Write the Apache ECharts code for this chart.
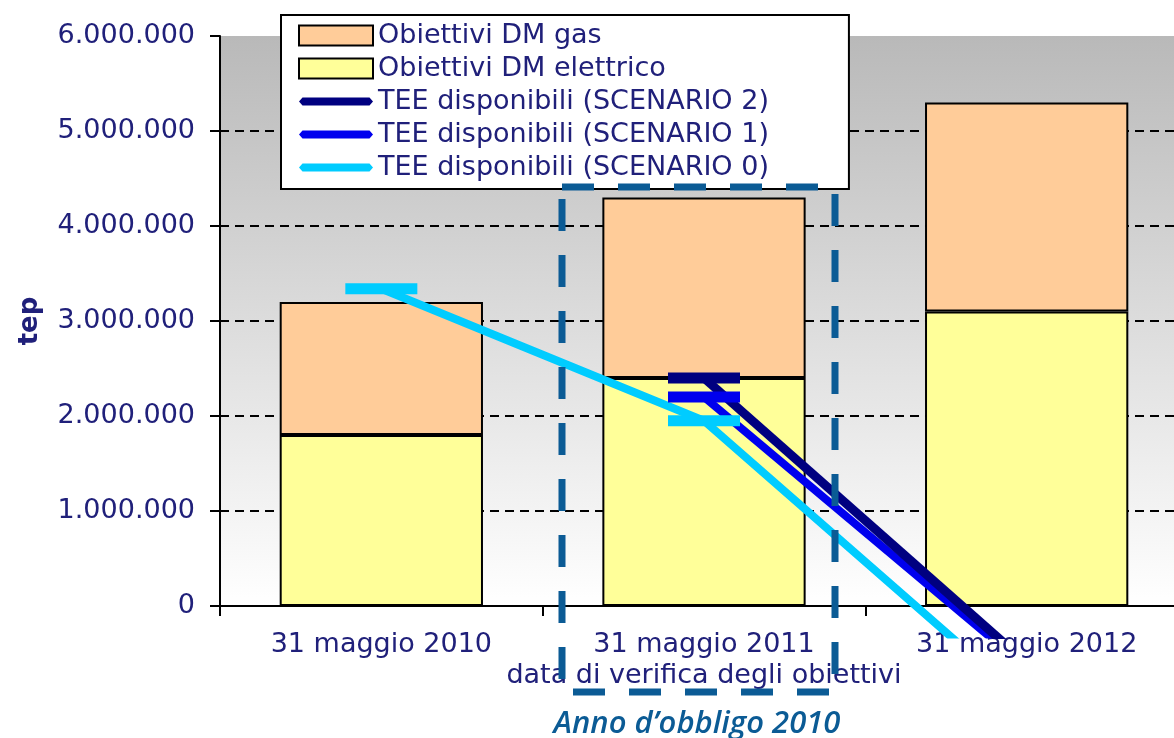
<!DOCTYPE html>
<html><head><meta charset="utf-8">
<script src="https://cdn.jsdelivr.net/npm/echarts@6/dist/echarts.min.js"></script>
<style>html,body{margin:0;padding:0;background:#fff}#c{width:1174px;height:738px}</style>
</head><body><div id="c"></div>
<script>
// ---- data ----
const categories = ['31 maggio 2010', '31 maggio 2011', '31 maggio 2012'];
const dmElettrico = [1800000, 2400000, 3100000];
const dmGas = [1400000, 1900000, 2200000];
const teeScenario0 = [3340000, 1950000, -1020000];
const teeScenario1 = ['-', 2200000, -650000];
const teeScenario2 = ['-', 2400000, -600000];
const yMin = 0, yMax = 6000000, yStep = 1000000;
const xAxisTitle = 'data di verifica degli obiettivi';
const yAxisTitle = 'tep';
const noteText = 'Anno d\u2019obbligo 2010';

const FONT = 'DejaVu Sans';
const TXT = '#20207a';
const fmt = v => String(v).replace(/\B(?=(\d{3})+(?!\d))/g, '.');
const lineIcon = 'path://M0,0 M0,10 L4,5.5 L80,5.5 L84,10 L80,14.5 L4,14.5 Z M84,20';

const chart = echarts.init(document.getElementById('c'), null, {renderer: 'canvas'});
const gridCommon = {left: 220, right: -14, outerBoundsMode: 'none', containLabel: false};

chart.setOption({
  animation: false,
  backgroundColor: '#fff',
  grid: [
    Object.assign({
      top: 36, bottom: 132, show: true, borderWidth: 0,
      backgroundColor: new echarts.graphic.LinearGradient(0, 0, 0, 1, [
        {offset: 0, color: '#b9b9b9'}, {offset: 1, color: '#ffffff'}
      ])
    }, gridCommon),
    Object.assign({top: 36, bottom: 103.5, show: false}, gridCommon)
  ],
  legend: {
    orient: 'vertical', left: 281, top: 15,
    padding: [7, 80, 8, 17],
    backgroundColor: '#fff', borderColor: '#000', borderWidth: 2,
    itemWidth: 74, itemHeight: 20, itemGap: 6,
    selectedMode: false,
    textStyle: {fontFamily: FONT, fontSize: 27, color: TXT},
    data: [
      {name: 'Obiettivi DM gas', icon: 'rect', itemStyle: {borderColor: '#000', borderWidth: 2}},
      {name: 'Obiettivi DM elettrico', icon: 'rect', itemStyle: {borderColor: '#000', borderWidth: 2}},
      {name: 'TEE disponibili (SCENARIO 2)', icon: lineIcon},
      {name: 'TEE disponibili (SCENARIO 1)', icon: lineIcon},
      {name: 'TEE disponibili (SCENARIO 0)', icon: lineIcon}
    ]
  },
  xAxis: [
    {
      type: 'category', gridIndex: 0, data: categories, boundaryGap: true,
      axisLine: {lineStyle: {color: '#000', width: 2}},
      axisTick: {show: true, length: 10, alignWithLabel: false, lineStyle: {color: '#000', width: 2}},
      axisLabel: {margin: 25, fontFamily: FONT, fontSize: 27, color: TXT},
      name: xAxisTitle, nameLocation: 'middle', nameGap: 53,
      nameTextStyle: {fontFamily: FONT, fontSize: 27, color: TXT}
    },
    {type: 'category', gridIndex: 1, data: categories, boundaryGap: true, show: false}
  ],
  yAxis: [
    {
      type: 'value', gridIndex: 0, min: yMin, max: yMax, interval: yStep,
      axisLine: {show: true, lineStyle: {color: '#000', width: 2}},
      axisTick: {show: true, length: 10, lineStyle: {color: '#000', width: 2}},
      axisLabel: {margin: 25, fontFamily: FONT, fontSize: 27, color: TXT, formatter: fmt},
      splitLine: {show: true, lineStyle: {
        color: ['#000', '#000', '#000', '#000', '#000', '#000', 'rgba(0,0,0,0)'],
        width: 2, type: [9, 6]}},
      name: yAxisTitle, nameLocation: 'middle', nameGap: 177,
      nameTextStyle: {fontFamily: FONT, fontSize: 26, fontWeight: 'bold', color: TXT}
    },
    {type: 'value', gridIndex: 1, min: -300000, max: yMax, show: false, splitLine: {show: false}}
  ],
  series: [
    {name: 'Obiettivi DM elettrico', type: 'bar', stack: 'dm', data: dmElettrico, barWidth: '63%',
     itemStyle: {color: '#ffff99', borderColor: '#000', borderWidth: 2}},
    {name: 'Obiettivi DM gas', type: 'bar', stack: 'dm', data: dmGas, barWidth: '63%',
     itemStyle: {color: '#ffcc99', borderColor: '#000', borderWidth: 2}},
    {name: 'TEE disponibili (SCENARIO 0)', type: 'line', xAxisIndex: 1, yAxisIndex: 1, data: teeScenario0,
     symbol: 'rect', symbolSize: [72, 11], showAllSymbol: true, clip: true,
     lineStyle: {width: 8, color: '#00ccff'}, itemStyle: {color: '#00ccff'}, z: 5},
    {name: 'TEE disponibili (SCENARIO 1)', type: 'line', xAxisIndex: 1, yAxisIndex: 1, data: teeScenario1,
     symbol: 'rect', symbolSize: [72, 11], showAllSymbol: true, clip: true,
     lineStyle: {width: 8, color: '#0000ee'}, itemStyle: {color: '#0000ee'}, z: 5},
    {name: 'TEE disponibili (SCENARIO 2)', type: 'line', xAxisIndex: 1, yAxisIndex: 1, data: teeScenario2,
     symbol: 'rect', symbolSize: [72, 11], showAllSymbol: true, clip: true,
     lineStyle: {width: 9, color: '#000080'}, itemStyle: {color: '#000080'}, z: 5}
  ],
  graphic: [
    {type: 'rect', z: 100, shape: {x: 562, y: 187, width: 273, height: 505},
     style: {fill: 'none', stroke: '#0b5b95', lineWidth: 7, lineDash: [32, 24]}},
    {type: 'text', z: 100, x: 697, y: 724,
     style: {text: noteText, fill: '#0b5b95', font: 'italic 600 31px "Open Sans"',
       textAlign: 'center', textVerticalAlign: 'middle'}}
  ]
});
</script></body></html>
